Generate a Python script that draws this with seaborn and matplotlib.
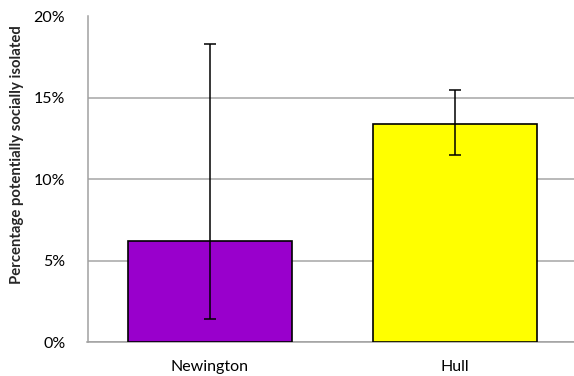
import numpy as np
import pandas as pd
import matplotlib
matplotlib.use("Agg")
import matplotlib.pyplot as plt
import seaborn as sns
from matplotlib.ticker import FuncFormatter

# data
areas = ["Newington", "Hull"]
pct = [6.2, 13.4]
err_low = [1.4, 11.5]
err_high = [18.3, 15.5]
bar_colors = ["#9900CC", "#FFFF00"]

df = pd.DataFrame({"area": areas, "pct": pct})

sns.set_style("white")
plt.rcParams["font.family"] = ["Lato", "DejaVu Sans"]

fig = plt.figure(figsize=(5.74, 3.76), dpi=100)
ax = fig.add_axes([87.5 / 574, 34 / 376, (574 - 87.5) / 574, 325.5 / 376])

sns.barplot(data=df, x="area", y="pct", hue="area", palette=bar_colors,
            saturation=1, width=0.67, edgecolor="black", linewidth=1.2,
            legend=False, ax=ax, zorder=3)

lo = np.array(pct) - np.array(err_low)
hi = np.array(err_high) - np.array(pct)
ax.errorbar(range(len(areas)), pct, yerr=[lo, hi], fmt="none",
            ecolor="black", elinewidth=1.1, capsize=4, capthick=1.1, zorder=4)

ax.set_ylim(0, 20)
ax.set_xlim(-0.5, 1.486)
ax.set_yticks([0, 5, 10, 15, 20])
ax.yaxis.set_major_formatter(FuncFormatter(lambda v, p: f"{v:.0f}%"))
ax.grid(axis="y", color="#A6A6A6", linewidth=1.1, zorder=0)

for s in ["top", "right"]:
    ax.spines[s].set_visible(False)
for s in ["left", "bottom"]:
    ax.spines[s].set_color("#A0A0A0")
    ax.spines[s].set_linewidth(1.1)

ax.set_xticks([0.5], minor=True)
ax.tick_params(axis="x", which="major", length=0, labelsize=11.5, pad=13,
               colors="#000000")
ax.tick_params(axis="x", which="minor", length=4, width=1, color="#A0A0A0")
ax.tick_params(axis="y", length=5, width=1, color="#A0A0A0", labelsize=11.5,
               labelcolor="#000000", pad=11)

ax.set_xlabel("")
ax.set_ylabel("Percentage potentially socially isolated", fontsize=10.7,
              fontweight="bold")
ax.yaxis.set_label_coords(-0.1305, 0.575)

fig.savefig("out.png", dpi=100)
